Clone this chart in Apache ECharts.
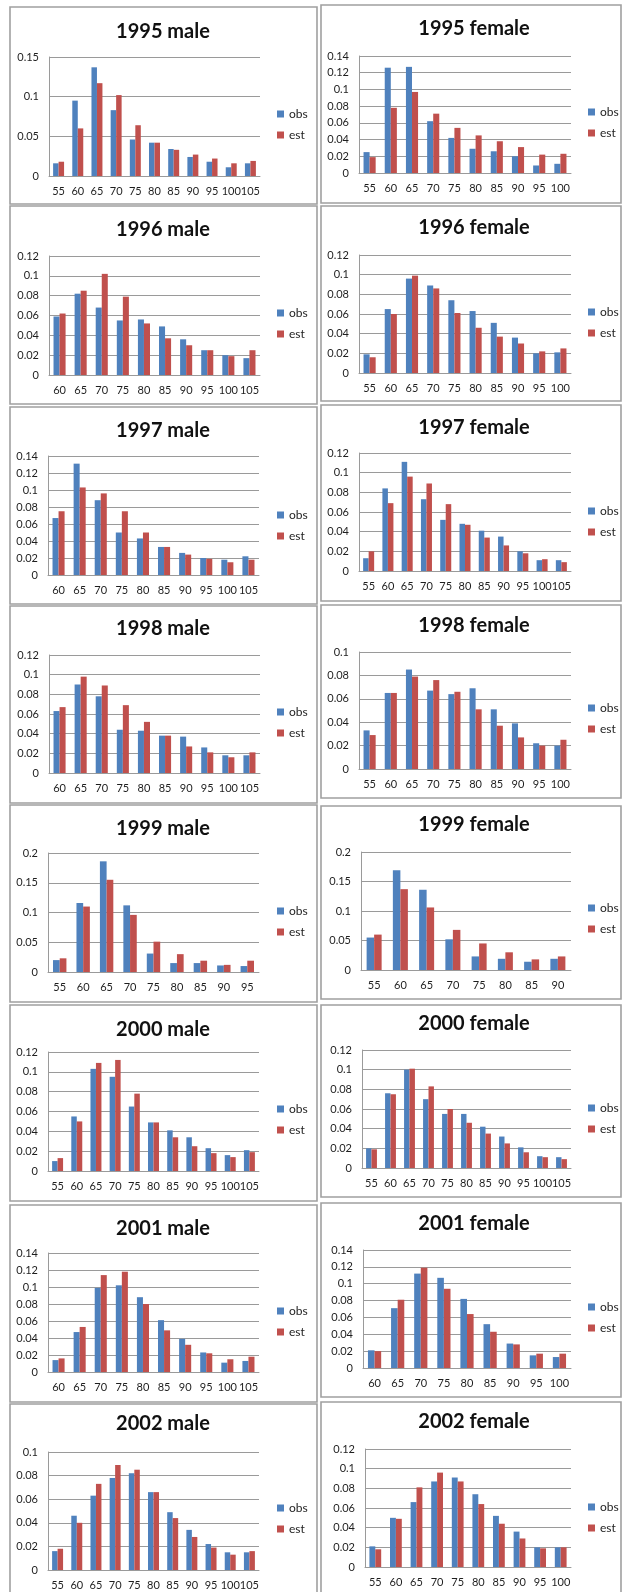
<!DOCTYPE html>
<html>
<head>
<meta charset="utf-8">
<script src="https://cdn.jsdelivr.net/npm/echarts@6/dist/echarts.min.js"></script>
<style>
  html, body { margin: 0; padding: 0; background: #ffffff; }
  #chart { width: 622px; height: 1592px; }
</style>
</head>
<body>
<div id="chart"></div>
<script>
// Age groups (category labels)
const ages55to105 = ['55', '60', '65', '70', '75', '80', '85', '90', '95', '100', '105'];
const ages55to100 = ['55', '60', '65', '70', '75', '80', '85', '90', '95', '100'];
const ages60to105 = ['60', '65', '70', '75', '80', '85', '90', '95', '100', '105'];
const ages55to95  = ['55', '60', '65', '70', '75', '80', '85', '90', '95'];
const ages55to90  = ['55', '60', '65', '70', '75', '80', '85', '90'];
const ages60to100 = ['60', '65', '70', '75', '80', '85', '90', '95', '100'];

// Observed (obs) and estimated (est) proportions per year and sex
const obs1995m = [0.016, 0.095, 0.137, 0.083, 0.046, 0.042, 0.034, 0.024, 0.018, 0.011, 0.016];
const est1995m = [0.018, 0.060, 0.117, 0.102, 0.064, 0.042, 0.033, 0.027, 0.022, 0.016, 0.019];
const obs1995f = [0.025, 0.126, 0.127, 0.062, 0.042, 0.029, 0.026, 0.020, 0.009, 0.011];
const est1995f = [0.019, 0.078, 0.097, 0.071, 0.054, 0.045, 0.038, 0.031, 0.022, 0.023];

const obs1996m = [0.059, 0.082, 0.068, 0.055, 0.056, 0.049, 0.036, 0.025, 0.020, 0.017];
const est1996m = [0.062, 0.085, 0.102, 0.079, 0.052, 0.037, 0.030, 0.025, 0.019, 0.025];
const obs1996f = [0.019, 0.065, 0.096, 0.089, 0.074, 0.063, 0.051, 0.036, 0.020, 0.021];
const est1996f = [0.016, 0.060, 0.099, 0.086, 0.061, 0.046, 0.037, 0.030, 0.022, 0.025];

const obs1997m = [0.067, 0.131, 0.088, 0.050, 0.043, 0.033, 0.026, 0.020, 0.018, 0.022];
const est1997m = [0.075, 0.103, 0.096, 0.075, 0.050, 0.033, 0.024, 0.019, 0.015, 0.018];
const obs1997f = [0.013, 0.084, 0.111, 0.073, 0.052, 0.048, 0.041, 0.035, 0.020, 0.011, 0.011];
const est1997f = [0.020, 0.069, 0.096, 0.089, 0.068, 0.047, 0.034, 0.026, 0.018, 0.012, 0.009];

const obs1998m = [0.063, 0.090, 0.078, 0.044, 0.043, 0.038, 0.037, 0.026, 0.018, 0.018];
const est1998m = [0.067, 0.098, 0.089, 0.069, 0.052, 0.038, 0.027, 0.021, 0.016, 0.021];
const obs1998f = [0.033, 0.065, 0.085, 0.067, 0.064, 0.069, 0.051, 0.039, 0.022, 0.020];
const est1998f = [0.029, 0.065, 0.079, 0.076, 0.066, 0.051, 0.037, 0.027, 0.020, 0.025];

const obs1999m = [0.020, 0.116, 0.186, 0.112, 0.031, 0.015, 0.015, 0.011, 0.010];
const est1999m = [0.023, 0.110, 0.155, 0.096, 0.051, 0.030, 0.019, 0.012, 0.019];
const obs1999f = [0.055, 0.169, 0.136, 0.052, 0.023, 0.019, 0.014, 0.019];
const est1999f = [0.060, 0.137, 0.106, 0.068, 0.045, 0.030, 0.018, 0.023];

const obs2000m = [0.010, 0.055, 0.103, 0.095, 0.065, 0.049, 0.041, 0.034, 0.023, 0.016, 0.021];
const est2000m = [0.013, 0.050, 0.109, 0.112, 0.078, 0.049, 0.034, 0.025, 0.018, 0.014, 0.019];
const obs2000f = [0.020, 0.076, 0.100, 0.070, 0.055, 0.055, 0.042, 0.032, 0.021, 0.012, 0.011];
const est2000f = [0.019, 0.075, 0.101, 0.083, 0.060, 0.046, 0.035, 0.025, 0.016, 0.011, 0.009];

const obs2001m = [0.014, 0.047, 0.099, 0.102, 0.088, 0.061, 0.039, 0.023, 0.011, 0.013];
const est2001m = [0.016, 0.053, 0.114, 0.118, 0.080, 0.049, 0.032, 0.022, 0.015, 0.018];
const obs2001f = [0.021, 0.071, 0.112, 0.107, 0.082, 0.052, 0.029, 0.015, 0.013];
const est2001f = [0.020, 0.081, 0.119, 0.094, 0.064, 0.043, 0.028, 0.017, 0.017];

const obs2002m = [0.016, 0.046, 0.063, 0.078, 0.082, 0.066, 0.049, 0.034, 0.022, 0.015, 0.015];
const est2002m = [0.018, 0.040, 0.073, 0.089, 0.085, 0.066, 0.044, 0.028, 0.019, 0.013, 0.016];
const obs2002f = [0.021, 0.050, 0.066, 0.087, 0.091, 0.074, 0.052, 0.036, 0.020, 0.020];
const est2002f = [0.018, 0.049, 0.081, 0.096, 0.087, 0.064, 0.044, 0.029, 0.019, 0.020];

// Panel titles and value-axis ranges
const titles = ['1995 male', '1995 female', '1996 male', '1996 female', '1997 male', '1997 female',
  '1998 male', '1998 female', '1999 male', '1999 female', '2000 male', '2000 female',
  '2001 male', '2001 female', '2002 male', '2002 female'];
const axisMax  = [0.15, 0.14, 0.12, 0.12, 0.14, 0.12, 0.12, 0.10, 0.2, 0.2, 0.12, 0.12, 0.14, 0.14, 0.10, 0.12];
const axisStep = [0.05, 0.02, 0.02, 0.02, 0.02, 0.02, 0.02, 0.02, 0.05, 0.05, 0.02, 0.02, 0.02, 0.02, 0.02, 0.02];

const panelAges = [ages55to105, ages55to100, ages60to105, ages55to100, ages60to105, ages55to105,
  ages60to105, ages55to100, ages55to95, ages55to90, ages55to105, ages55to105,
  ages60to105, ages60to100, ages55to105, ages55to100];
const panelObs = [obs1995m, obs1995f, obs1996m, obs1996f, obs1997m, obs1997f, obs1998m, obs1998f,
  obs1999m, obs1999f, obs2000m, obs2000f, obs2001m, obs2001f, obs2002m, obs2002f];
const panelEst = [est1995m, est1995f, est1996m, est1996f, est1997m, est1997f, est1998m, est1998f,
  est1999m, est1999f, est2000m, est2000f, est2001m, est2001f, est2002m, est2002f];

// Page layout, one row per panel:
// [boxX, boxY, boxW, boxH, titleCenterY, plotLeft, plotRight, plotTop, plotBottom, legendLeft, legendFirstCenterY]
const layout = [
  [10, 7, 307, 197, 32, 49, 260, 57, 176, 277, 114],
  [321, 5, 300, 198, 29, 359, 571, 56, 173, 588, 112],
  [10, 206, 307, 198, 230, 49, 260, 256, 375, 277, 313],
  [321, 206, 300, 195, 228, 359, 571, 255, 373, 588, 312],
  [10, 407, 307, 197, 431, 48, 259, 456, 575, 277, 515],
  [321, 405, 300, 196, 428, 359, 571, 453, 571, 588, 511],
  [10, 606, 307, 197, 629, 49, 260, 655, 773, 277, 712],
  [321, 605, 300, 193, 626, 359, 571, 652, 769, 588, 708],
  [10, 805, 307, 197, 829, 48, 259, 853, 972, 277, 911],
  [321, 806, 300, 193, 825, 361, 571, 852, 970, 588, 908],
  [10, 1005, 307, 196, 1030, 48, 259, 1052, 1171, 277, 1109],
  [321, 1005, 300, 192, 1024, 362, 571, 1050, 1168, 588, 1108],
  [10, 1205, 307, 197, 1229, 48, 259, 1253, 1372, 277, 1311],
  [321, 1203, 300, 194, 1224, 363, 571, 1250, 1368, 588, 1307],
  [10, 1404, 307, 200, 1424, 48, 259, 1452, 1570, 277, 1508],
  [321, 1402, 300, 200, 1422, 365, 571, 1449, 1567, 588, 1507]
];

const FONT = 'Lato, "Open Sans", sans-serif';
const OBS_COLOR = '#4F81BD';
const EST_COLOR = '#C0504D';
const GRID_COLOR = '#9a9a9a';

function fmt(v) { return String(parseFloat(Number(v).toFixed(6))); }

const option = {
  backgroundColor: '#ffffff',
  animation: false,
  title: [], grid: [], xAxis: [], yAxis: [], series: [], legend: [], graphic: []
};

titles.forEach((name, i) => {
  const [bx, by, bw, bh, ty, pl, pr, pt, pb, lx, ly] = layout[i];

  // chart-area frame
  option.graphic.push({
    type: 'rect',
    shape: { x: bx, y: by, width: bw, height: bh },
    style: { fill: null, stroke: '#a0a0a0', lineWidth: 1.6 },
    silent: true
  });

  option.title.push({
    text: name,
    left: (i % 2 === 0) ? 163 : 474,
    top: ty - 12,
    textAlign: 'center',
    padding: 0,
    textStyle: { fontFamily: FONT, fontSize: 20, fontWeight: 'bold', color: '#111111', lineHeight: 24 }
  });

  option.grid.push({
    left: pl, top: pt, width: pr - pl, height: pb - pt,
    containLabel: false, outerBoundsMode: 'none'
  });

  option.xAxis.push({
    type: 'category',
    gridIndex: i,
    data: panelAges[i],
    axisLine: { show: true, lineStyle: { color: GRID_COLOR, width: 1 } },
    axisTick: { show: false },
    axisLabel: { interval: 0, margin: 10, fontFamily: FONT, fontSize: 11, color: '#1e1e1e', hideOverlap: false },
    splitLine: { show: false }
  });

  option.yAxis.push({
    type: 'value',
    gridIndex: i,
    min: 0,
    max: axisMax[i],
    interval: axisStep[i],
    axisLine: { show: true, lineStyle: { color: GRID_COLOR, width: 1 } },
    axisTick: { show: false },
    axisLabel: { margin: 10, fontFamily: FONT, fontSize: 11, color: '#1e1e1e', formatter: fmt },
    splitLine: { show: true, lineStyle: { color: GRID_COLOR, width: 1 } }
  });

  option.series.push({
    name: 'obs', type: 'bar', xAxisIndex: i, yAxisIndex: i,
    data: panelObs[i], barWidth: '28.6%', barGap: '0%',
    itemStyle: { color: OBS_COLOR }, silent: true
  });
  option.series.push({
    name: 'est', type: 'bar', xAxisIndex: i, yAxisIndex: i,
    data: panelEst[i], barWidth: '28.6%', barGap: '0%',
    itemStyle: { color: EST_COLOR }, silent: true
  });

  option.legend.push({
    orient: 'vertical',
    left: lx,
    top: ly - 7,
    padding: 0,
    itemWidth: 7,
    itemHeight: 7,
    itemGap: 7,
    icon: 'rect',
    selectedMode: false,
    data: [
      { name: 'obs', itemStyle: { color: OBS_COLOR } },
      { name: 'est', itemStyle: { color: EST_COLOR } }
    ],
    textStyle: { fontFamily: FONT, fontSize: 12, color: '#1e1e1e', lineHeight: 14, padding: 0 }
  });
});

const chart = echarts.init(document.getElementById('chart'), null, { renderer: 'canvas', width: 622, height: 1592 });
chart.setOption(option);
</script>
</body>
</html>
